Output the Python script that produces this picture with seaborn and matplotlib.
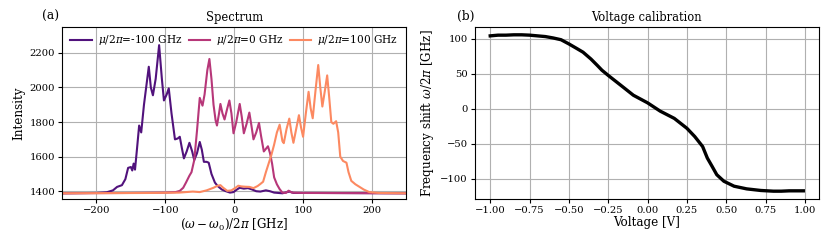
import numpy as np
import pandas as pd
import matplotlib
matplotlib.use("Agg")
import matplotlib.pyplot as plt
import seaborn as sns

# ------------------------------------------------------------------
# data
# ------------------------------------------------------------------
detunings = ["-100", "0", "100"]

x_m100 = [-250, -200, -185, -176, -170, -163, -158, -154, -150, -148, -146, -144,
          -141, -138, -135, -131, -124, -121, -118, -114, -109, -105, -102, -98,
          -95, -91, -86, -82, -79, -76, -73, -69, -65, -61, -58, -54, -50, -47,
          -44, -40, -37, -33, -28, -24, -18, -12, -6, -1, 4, 8, 14, 20, 26, 32,
          38, 46, 52, 58, 70, 80, 86, 120, 250]
y_m100 = [1388, 1390, 1394, 1405, 1425, 1435, 1470, 1535, 1540, 1520, 1560, 1525,
          1650, 1780, 1740, 1900, 2120, 2000, 1955, 2050, 2245, 2050, 1925, 1960,
          1995, 1850, 1700, 1705, 1715, 1650, 1590, 1630, 1680, 1630, 1580, 1620,
          1685, 1640, 1570, 1570, 1565, 1500, 1450, 1430, 1410, 1400, 1392, 1395,
          1410, 1420, 1415, 1418, 1410, 1400, 1398, 1405, 1400, 1392, 1388, 1398,
          1390, 1390, 1388]

x_0 = [-250, -150, -100, -85, -79, -74, -70, -65, -62, -58, -54, -50, -46, -43,
       -39, -36, -33, -30, -27, -25, -22, -20, -17, -14, -10, -7, -4, -1, 3, 8,
       11, 14, 18, 22, 25, 28, 32, 36, 39, 43, 46, 49, 52, 55, 58, 62, 66, 70,
       75, 79, 84, 100, 250]
y_0 = [1388, 1390, 1392, 1395, 1402, 1420, 1450, 1490, 1510, 1580, 1750, 1940,
       1895, 1960, 2100, 2165, 2050, 1900, 1810, 1780, 1850, 1905, 1850, 1815,
       1880, 1925, 1850, 1735, 1800, 1905, 1830, 1735, 1790, 1855, 1780, 1700,
       1740, 1795, 1720, 1630, 1645, 1660, 1620, 1560, 1480, 1440, 1412, 1392,
       1390, 1403, 1392, 1390, 1388]

x_p100 = [-250, -120, -80, -60, -50, -40, -30, -24, -20, -16, -10, -4, 2, 6, 10,
          16, 22, 28, 34, 38, 42, 46, 50, 54, 58, 62, 66, 70, 72, 76, 80, 83, 86,
          90, 94, 97, 100, 104, 108, 111, 114, 118, 122, 125, 128, 132, 135, 138,
          141, 144, 148, 151, 154, 158, 163, 166, 170, 176, 182, 188, 196, 210, 250]
y_p100 = [1388, 1390, 1392, 1398, 1395, 1405, 1420, 1432, 1435, 1420, 1402, 1405,
          1420, 1432, 1428, 1426, 1425, 1418, 1430, 1442, 1455, 1510, 1560, 1610,
          1670, 1740, 1785, 1690, 1678, 1760, 1820, 1740, 1680, 1760, 1840, 1770,
          1715, 1850, 1975, 1880, 1822, 1980, 2130, 2000, 1890, 1990, 2070, 1940,
          1800, 1790, 1805, 1740, 1600, 1575, 1565, 1510, 1460, 1440, 1425, 1410,
          1395, 1390, 1388]

voltage = [-1.00, -0.95, -0.90, -0.85, -0.80, -0.75, -0.70, -0.65, -0.60, -0.55,
           -0.50, -0.45, -0.41, -0.36, -0.32, -0.29, -0.25, -0.17, -0.09, 0.00,
           0.08, 0.17, 0.25, 0.30, 0.35, 0.38, 0.41, 0.44, 0.485, 0.55, 0.63,
           0.72, 0.80, 0.85, 0.90, 0.95, 0.99]
freq_shift = [104, 105, 105, 105.5, 105.5, 105, 104, 103, 101, 98.5,
              92.5, 86, 80.7, 71, 62, 55, 47.6, 33.5, 19.3, 8.5,
              -3.3, -13.7, -27.8, -39.6, -53.8, -70.3, -82, -94, -103.3, -110.4, -114.2,
              -116.5, -117.5, -117.5, -117, -117, -117]

# ------------------------------------------------------------------
# long-form frame for seaborn
# ------------------------------------------------------------------
rows = []
for lab, xs, ys in zip(detunings, [x_m100, x_0, x_p100], [y_m100, y_0, y_p100]):
    name = r"$\mu/2\pi$=" + lab + " GHz"
    for xv, yv in zip(xs, ys):
        rows.append({"detuning": xv, "intensity": yv, "series": name})
df_spec = pd.DataFrame(rows)
df_cal = pd.DataFrame({"voltage": voltage, "freq": freq_shift})

plt.rcParams["font.family"] = ["DejaVu Serif"]
plt.rcParams["mathtext.fontset"] = "dejavuserif"

fig, (ax1, ax2) = plt.subplots(1, 2, figsize=(8.3, 2.49), dpi=100)
fig.subplots_adjust(left=0.0747, right=0.9867, bottom=0.2008, top=0.8916, wspace=0.198)

# —— (a) spectrum ——
pal = sns.color_palette("magma", 3)
sns.lineplot(data=df_spec, x="detuning", y="intensity", hue="series",
             palette=pal, estimator=None, sort=False, lw=1.5, ax=ax1)
ax1.set_xlim(-250, 250)
ax1.set_ylim(1355, 2350)
ax1.set_yticks([1400, 1600, 1800, 2000, 2200])
ax1.set_xlabel(r"$(\omega-\omega_0)/2\pi$ [GHz]", fontsize=8.6, labelpad=1)
ax1.set_ylabel("Intensity", fontsize=8.6, labelpad=3)
ax1.set_title("Spectrum", fontsize=8.3, pad=4)
ax1.grid(True, color="#b0b0b0", lw=0.8)
ax1.legend(loc="upper center", ncol=3, frameon=False, fontsize=7.6,
           handlelength=2.0, handletextpad=0.6, columnspacing=0.6,
           borderaxespad=0.2, bbox_to_anchor=(0.5, 1.0))
ax1.text(-0.058, 1.04, "(a)", transform=ax1.transAxes, fontsize=8.8)

# —— (b) voltage calibration ——
sns.lineplot(data=df_cal, x="voltage", y="freq", color="black",
             lw=2.4, estimator=None, sort=False, ax=ax2)
ax2.set_xticks([-1.0, -0.75, -0.5, -0.25, 0.0, 0.25, 0.5, 0.75, 1.0])
ax2.set_yticks([-100, -50, 0, 50, 100])
ax2.set_xlabel("Voltage [V]", fontsize=8.6, labelpad=1)
ax2.set_ylabel(r"Frequency shift $\omega/2\pi$ [GHz]", fontsize=8.6, labelpad=3)
ax2.set_title("Voltage calibration", fontsize=8.3, pad=4)
ax2.grid(True, color="#b0b0b0", lw=0.8)
ax2.text(-0.05, 1.04, "(b)", transform=ax2.transAxes, fontsize=8.8)

for ax in (ax1, ax2):
    ax.tick_params(labelsize=7.2, length=3, width=0.8, pad=2)
    ax.set_axisbelow(True)

fig.savefig("out.png", dpi=100)
